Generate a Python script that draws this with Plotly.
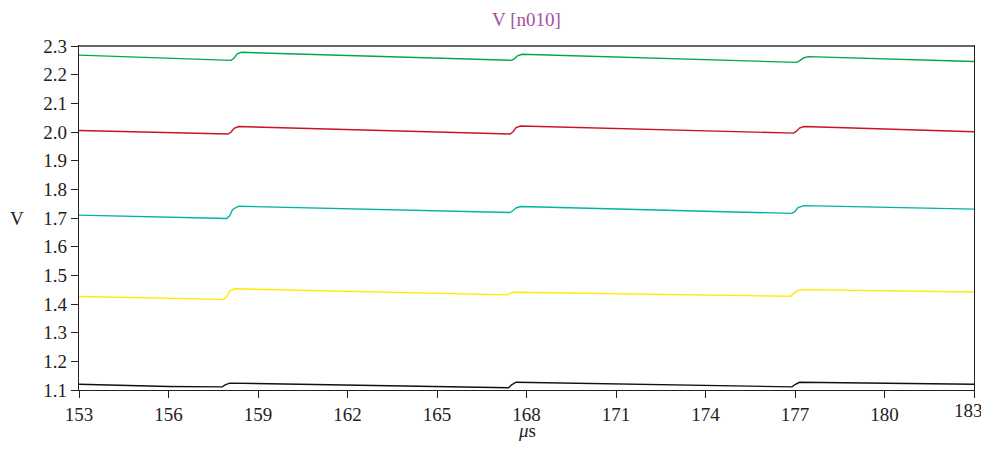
import plotly.graph_objects as go

# time (µs) and voltage (V) samples
green_t = [153.0, 158.1, 158.2, 158.3, 158.45, 167.5, 167.6, 167.7, 167.85, 177.05, 177.15, 177.3, 177.45, 183.0]
green_v = [2.268, 2.250, 2.258, 2.273, 2.278, 2.250, 2.256, 2.266, 2.271, 2.243, 2.248, 2.259, 2.263, 2.246]

red_t = [153.0, 158.0, 158.1, 158.2, 158.35, 167.45, 167.55, 167.65, 167.8, 176.95, 177.05, 177.15, 177.3, 183.0]
red_v = [2.005, 1.993, 2.000, 2.013, 2.019, 1.993, 2.001, 2.015, 2.021, 1.996, 2.003, 2.014, 2.019, 2.001]

teal_t = [153.0, 157.95, 158.05, 158.15, 158.35, 167.45, 167.55, 167.65, 167.8, 176.9, 177.0, 177.1, 177.3, 183.0]
teal_v = [1.710, 1.698, 1.708, 1.730, 1.741, 1.719, 1.726, 1.735, 1.740, 1.716, 1.723, 1.736, 1.743, 1.731]

yellow_t = [153.0, 157.85, 157.95, 158.05, 158.2, 167.35, 167.45, 167.55, 176.85, 176.95, 177.05, 177.2, 183.0]
yellow_v = [1.426, 1.416, 1.425, 1.445, 1.453, 1.432, 1.437, 1.441, 1.427, 1.435, 1.445, 1.450, 1.442]

black_t = [153.0, 156.0, 157.8, 157.9, 158.05, 167.4, 167.5, 167.65, 176.9, 177.0, 177.15, 183.0]
black_v = [1.120, 1.112, 1.111, 1.118, 1.124, 1.108, 1.118, 1.127, 1.111, 1.119, 1.127, 1.120]

x_ticks = [153, 156, 159, 162, 165, 168, 171, 174, 177, 180, 183]
y_ticks = [1.1, 1.2, 1.3, 1.4, 1.5, 1.6, 1.7, 1.8, 1.9, 2.0, 2.1, 2.2, 2.3]

series = [
    ("green", green_t, green_v, "#00a650"),
    ("red", red_t, red_v, "#c8141e"),
    ("teal", teal_t, teal_v, "#00b2a9"),
    ("yellow", yellow_t, yellow_v, "#ffea00"),
    ("black", black_t, black_v, "#111111"),
]

fig = go.Figure()
for name, t, v, c in series:
    fig.add_trace(go.Scatter(x=t, y=v, mode="lines", name=name,
                             line=dict(color=c, width=1.4),
                             showlegend=False))

W, H = 973, 435  # page body has an 8px margin all round
font = "Liberation Serif, DejaVu Serif, serif"
fig.update_layout(
    width=W, height=H,
    margin=dict(l=71, r=7, t=38, b=53, autoexpand=False),
    paper_bgcolor="white", plot_bgcolor="white",
    font=dict(family=font, size=19, color="#222"),
    title=dict(text="V [n010]", x=0.5, xref="paper", xanchor="center",
               y=1 - 11 / H, yref="container", yanchor="middle",
               font=dict(family=font, size=19, color="#a3509f")),
)
# the last tick label sits at the page edge; it is drawn as an annotation below
x_labels = [str(v) for v in x_ticks[:-1]] + [""]
fig.update_xaxes(range=[153, 183], tickvals=x_ticks, ticktext=x_labels,
                 showgrid=False, zeroline=False,
                 showline=True, linecolor="#222", linewidth=1.2, mirror=True,
                 ticks="outside", ticklen=7, tickcolor="#222", automargin=False,
                 tickfont=dict(family=font, size=19, color="#222"))
fig.update_yaxes(range=[1.1, 2.3], tickvals=y_ticks, tickformat=".1f", showgrid=False, zeroline=False,
                 showline=True, linecolor="#222", linewidth=1.2, mirror=True,
                 ticks="outside", ticklen=7, tickcolor="#222", automargin=False,
                 tickfont=dict(family=font, size=19, color="#222"))
fig.add_shape(type="line", xref="paper", yref="paper", x0=0, x1=1, y0=1, y1=1,
              line=dict(color="#666", width=2))
fig.add_annotation(text=str(x_ticks[-1]), xref="x", yref="paper", x=x_ticks[-1], y=0,
                   xanchor="center", yanchor="top", xshift=-6, yshift=-8, showarrow=False,
                   font=dict(family=font, size=19, color="#222"))
fig.add_annotation(text="<i>μ</i>s", xref="paper", yref="paper", x=0.5, y=0,
                   xanchor="center", yanchor="middle", yshift=-40, showarrow=False,
                   font=dict(family=font, size=19, color="#222"))
fig.add_annotation(text="V", xref="paper", yref="paper", x=-0.069, y=0.5,
                   xanchor="center", yanchor="middle", showarrow=False,
                   font=dict(family=font, size=19, color="#222"))

fig.write_html("out.html")
